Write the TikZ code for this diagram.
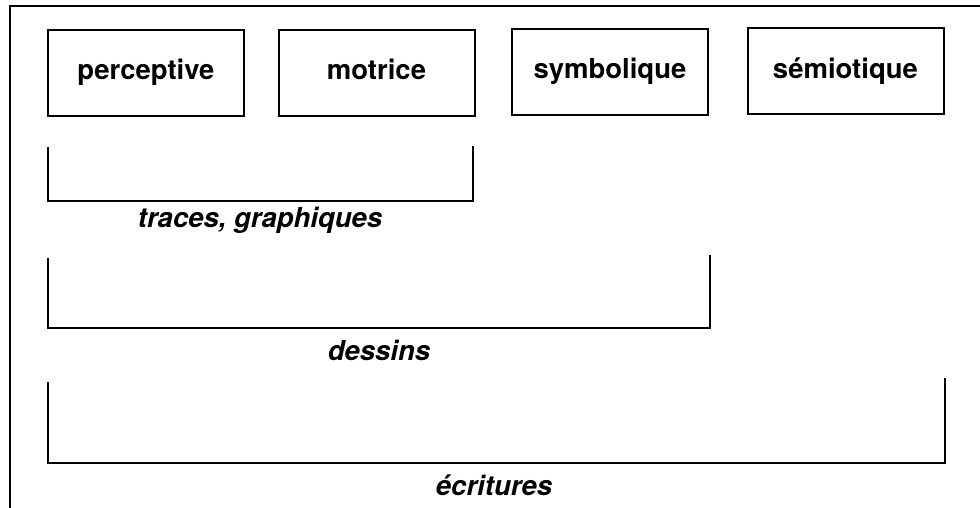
\documentclass[tikz,border=0pt]{standalone}
\usepackage{fontspec}
\setmainfont{TeX Gyre Heros}
\begin{document}
\begin{tikzpicture}[x=1pt,y=-1pt,
  catbox/.style={draw, line width=2pt, minimum width=196pt, minimum height=86pt, inner sep=0pt, text height=20pt, text depth=6pt, font=\fontsize{27.5}{32}\selectfont\bfseries},
  brack/.style={draw, line width=2pt},
  lab/.style={font=\fontsize{27.5}{32}\selectfont\bfseries\itshape, inner sep=0pt}]
\useasboundingbox (0,0) rectangle (980,508);
\fill[white] (0,0) rectangle (980,508);
% frame
\draw[line width=2pt] (10,508) -- (10,6) -- (980,6);
% boxes
\node[catbox] (perc) at (146,73) {perceptive};
\node[catbox] (motr) at (376.5,73) {motrice};
\node[catbox] (symb) at (610,72) {symbolique};
\node[catbox] (semi) at (845.5,71.5) {sémiotique};
% brackets
\coordinate (t1) at (48,147); \coordinate (t2) at (48,201);
\coordinate (t3) at (473,201); \coordinate (t4) at (473,146);
\draw[brack] (t1) -- (t2) -- (t3) -- (t4);
\coordinate (d1) at (48,258); \coordinate (d2) at (48,328);
\coordinate (d3) at (710,328); \coordinate (d4) at (710,255);
\draw[brack] (d1) -- (d2) -- (d3) -- (d4);
\coordinate (e1) at (48,382); \coordinate (e2) at (48,463);
\coordinate (e3) at (945,463); \coordinate (e4) at (945,378);
\draw[brack] (e1) -- (e2) -- (e3) -- (e4);
% labels
\node[lab] (ltr) at (260,220) {traces, graphiques};
\node[lab] (lde) at (379,350) {dessins};
\node[lab] (lec) at (494,485) {écritures};
\end{tikzpicture}
\end{document}
